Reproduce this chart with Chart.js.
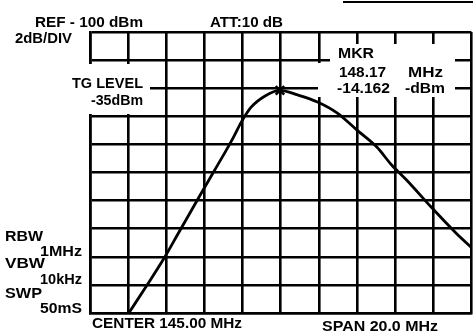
<!DOCTYPE html>
<html>
<head>
<meta charset="utf-8">
<script src="https://cdn.jsdelivr.net/npm/chart.js@4.4.1/dist/chart.umd.min.js"></script>
<style>
  html, body { margin: 0; padding: 0; background: #fff; overflow: hidden; }
  canvas { display: block; }
</style>
</head>
<body>
<canvas id="specChart" width="480" height="332"></canvas>
<script>
// trace (x in MHz, y in dB below the top line)
var freqMHz = [137.07, 137.96, 138.89, 139.67, 140.60, 141.48, 142.11, 142.52, 142.94, 143.45, 144.18, 144.96,
               145.89, 146.93, 147.97, 149.00, 150.04, 150.82, 151.60, 152.89, 154.19, 155.02];
var levelDb = [-19.93, -18.08, -16.09, -14.23, -12.03, -9.96, -8.50, -7.50, -6.40, -5.35, -4.55, -4.15,
               -4.48, -4.98, -5.77, -6.98, -8.19, -9.47, -10.53, -12.46, -14.31, -15.37];
var mkrFreq = [144.96];
var mkrLevel = [-4.15];
var freqTicks = [135, 137, 139, 141, 143, 145, 147, 149, 151, 153, 155];
var levelTicks = [-20, -18, -16, -14, -12, -10, -8, -6, -4, -2, 0];

// labels printed on the screen: text, left x, baseline y, width
var labels = [
    ['REF - 100 dBm', 35, 27, 108],
    ['2dB/DIV', 15, 43, 57],
    ['ATT:10 dB', 210, 27, 73],
    ['TG LEVEL', 72, 88, 71],
    ['-35dBm', 91, 105, 52],
    ['MKR', 338, 58, 36],
    ['148.17', 339, 77, 47],
    ['-14.162', 337, 93, 53],
    ['MHz', 408, 77, 35],
    ['-dBm', 405, 93, 40],
    ['RBW', 5, 241, 38],
    ['1MHz', 40, 256, 42],
    ['VBW', 5, 268, 40],
    ['10kHz', 40, 284, 42],
    ['SWP', 5, 298, 37],
    ['50mS', 40, 313, 42],
    ['CENTER 145.00 MHz', 92, 328, 150],
    ['SPAN 20.0 MHz', 322, 331, 116]
];
// white patches where the printed text wipes out the graticule
var blanks = [[62, 64, 88, 50], [330, 44, 125, 19], [318, 63, 137, 34]];

var overlay = {
    id: 'overlay',
    afterDraw: function (chart) {
        var ctx = chart.ctx;
        ctx.save();
        ctx.fillStyle = '#fff';
        blanks.forEach(function (b) { ctx.fillRect(b[0], b[1], b[2], b[3]); });
        ctx.fillStyle = '#000';
        ctx.fillRect(343, 1, 137, 2); // screen frame edge at top right
        ctx.font = 'bold 14px "Liberation Sans", Arial, sans-serif';
        ctx.textBaseline = 'alphabetic';
        labels.forEach(function (l) {
            var w = ctx.measureText(l[0]).width;
            ctx.save();
            ctx.translate(l[1], l[2]);
            ctx.scale(l[3] / w, 1);
            ctx.fillText(l[0], 0, 0);
            ctx.restore();
        });
        ctx.restore();
    }
};

var trace = freqMHz.map(function (f, i) { return {x: f, y: levelDb[i]}; });
var marker = mkrFreq.map(function (f, i) { return {x: f, y: mkrLevel[i]}; });

var gridOpts = {color: '#000', lineWidth: 2.6, drawTicks: false};
var borderOpts = {display: true, color: '#000', width: 2.6};

var ctx = document.getElementById('specChart').getContext('2d');
new Chart(ctx, {
    type: 'scatter',
    data: {
        datasets: [
            {
                data: trace,
                showLine: true,
                borderColor: '#000',
                borderWidth: 2.8,
                pointRadius: 0,
                cubicInterpolationMode: 'monotone'
            },
            {
                data: marker,
                pointStyle: 'crossRot',
                pointRadius: 6,
                borderColor: '#000',
                borderWidth: 2.6
            }
        ]
    },
    options: {
        responsive: false,
        animation: false,
        layout: {padding: {left: 90, top: 32, right: 4, bottom: 19}},
        plugins: {legend: {display: false}, tooltip: {enabled: false}},
        scales: {
            x: {
                type: 'linear', min: 135, max: 155,
                afterBuildTicks: function (s) { s.ticks = freqTicks.map(function (v) { return {value: v}; }); },
                ticks: {display: false},
                grid: gridOpts,
                border: borderOpts
            },
            y: {
                type: 'linear', min: -20, max: 0,
                afterBuildTicks: function (s) { s.ticks = levelTicks.map(function (v) { return {value: v}; }); },
                ticks: {display: false},
                grid: gridOpts,
                border: borderOpts
            }
        }
    },
    plugins: [overlay]
});
</script>
</body>
</html>
